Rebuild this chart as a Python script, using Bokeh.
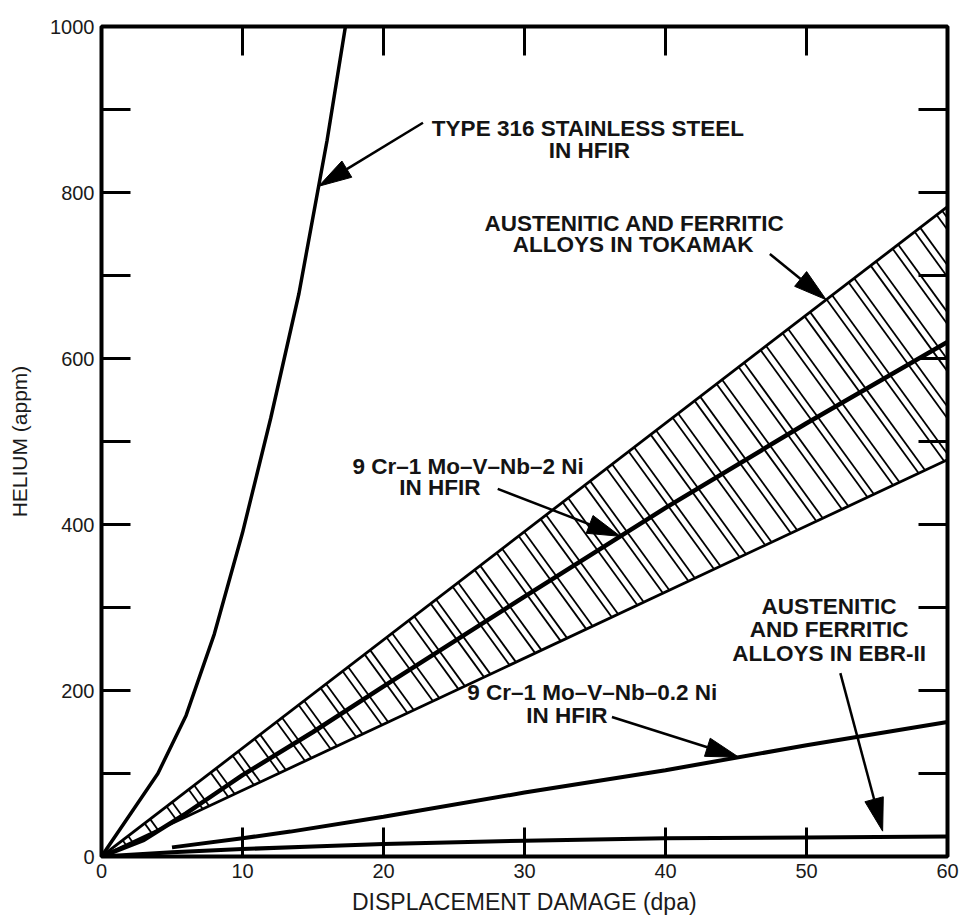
import numpy as np
from bokeh.plotting import figure
from bokeh.models import Range1d, LinearAxis, FixedTicker
from bokeh.core.properties import value
from bokeh.embed import file_html
from bokeh.resources import INLINE

# ---- helium generation vs displacement damage ----
dpa_316 = [0, 2, 4, 5, 6, 8, 10, 12, 14, 16, 17.3]
he_316 = [0, 50, 100, 135, 170, 268, 390, 528, 678, 863, 1000]

dpa_band = [0, 60]
he_band_upper = [0, 783]
he_band_lower = [0, 478]

dpa_2ni = [0, 3, 6, 8, 10, 15, 20, 30, 40, 50, 60]
he_2ni = [0, 20, 52, 75, 98, 150, 205, 313, 420, 522, 620]

dpa_02ni = [5, 10, 13.4, 20, 30, 40, 50, 60]
he_02ni = [11, 22, 30, 48, 77, 104, 134, 162]

dpa_ebr = [0, 5, 10, 15, 20, 30, 40, 50, 60]
he_ebr = [0, 5, 9, 12, 15, 19, 22, 23, 24]

x_ticks = [0, 10, 20, 30, 40, 50, 60]
y_ticks = [0, 200, 400, 600, 800, 1000]
y_minor = [100, 300, 500, 700, 900]

FONT = value("Liberation Sans")
FRAME_W, FRAME_H = 846, 830
X_MAX, Y_MAX = 60, 1000
SX, SY = FRAME_W / X_MAX, FRAME_H / Y_MAX  # pixels per data unit

p = figure(frame_width=FRAME_W, frame_height=FRAME_H,
           x_range=Range1d(0, X_MAX), y_range=Range1d(0, Y_MAX),
           output_backend="svg", toolbar_location=None,
           min_border_left=101, min_border_right=15,
           min_border_top=26, min_border_bottom=60,
           background_fill_color="white", border_fill_color="white")
p.grid.visible = False
p.outline_line_color = "black"
p.outline_line_width = 4

def style_axis(ax, ticks, minor=(), show_labels=True):
    ax.ticker = FixedTicker(ticks=list(ticks), minor_ticks=list(minor))
    ax.axis_line_color = None
    ax.major_tick_in = 29
    ax.major_tick_out = 0
    ax.minor_tick_in = 29
    ax.minor_tick_out = 0
    ax.major_tick_line_width = 3
    ax.minor_tick_line_width = 3
    ax.major_tick_line_color = "black"
    ax.minor_tick_line_color = "black"
    if show_labels:
        ax.major_label_text_font = "Liberation Sans"
        ax.major_label_text_font_size = "20px"
        ax.major_label_text_color = "#1a1a1a"
    else:
        ax.major_label_text_font_size = "0px"
        ax.major_label_standoff = 0

style_axis(p.xaxis[0], x_ticks)
p.xaxis[0].major_label_standoff = 7
p.xaxis[0].axis_label = "DISPLACEMENT DAMAGE (dpa)"
p.xaxis[0].axis_label_standoff = 8
p.xaxis[0].axis_label_text_font_size = "23px"

style_axis(p.yaxis[0], y_ticks, y_minor)
p.yaxis[0].major_label_standoff = 7
p.yaxis[0].axis_label = "HELIUM (appm)"
p.yaxis[0].axis_label_standoff = 16
p.yaxis[0].axis_label_text_font_size = "21px"

for ax in (p.xaxis[0], p.yaxis[0]):
    ax.axis_label_text_font = "Liberation Sans"
    ax.axis_label_text_font_style = "normal"
    ax.axis_label_text_color = "#1a1a1a"

top = LinearAxis()
style_axis(top, x_ticks, show_labels=False)
p.add_layout(top, "above")
right = LinearAxis()
style_axis(right, y_ticks, y_minor, show_labels=False)
p.add_layout(right, "right")

# ---- hatched tokamak band: pairs of thin lines crossing the band ----
s_hi = he_band_upper[-1] / dpa_band[-1]
s_lo = he_band_lower[-1] / dpa_band[-1]
ang = np.deg2rad(54)
hx, hy = np.cos(ang) / SX, -np.sin(ang) / SY     # one screen pixel along the hatch
pair_step = 22 / SX
pair_gap = 5.5 / SX
hatch_xs, hatch_ys = [], []
for x0 in np.arange(1.5, dpa_band[-1], pair_step):
    for xu in (x0, x0 + pair_gap):
        yu = s_hi * xu
        t = xu * (s_hi - s_lo) / (s_lo * hx - hy)
        hatch_xs.append([xu, xu + t * hx])
        hatch_ys.append([yu, yu + t * hy])
p.multi_line(hatch_xs, hatch_ys, line_color="black", line_width=1.8)

p.line(dpa_band, he_band_upper, line_color="black", line_width=2.8)
p.line(dpa_band, he_band_lower, line_color="black", line_width=2.8)

# ---- curves ----
p.line(dpa_2ni, he_2ni, line_color="black", line_width=4.5)
p.line(dpa_316, he_316, line_color="black", line_width=3.5)
p.line(dpa_02ni, he_02ni, line_color="black", line_width=4)
p.line(dpa_ebr, he_ebr, line_color="black", line_width=4)

# ---- annotations ----
labels = [
    ("TYPE 316 STAINLESS STEEL", 34.5, 877),
    ("IN HFIR", 34.6, 851),
    ("AUSTENITIC AND FERRITIC", 37.8, 763),
    ("ALLOYS IN TOKAMAK", 37.7, 737),
    ("9 Cr–1 Mo–V–Nb–2 Ni", 26.0, 470),
    ("IN HFIR", 24.0, 444),
    ("AUSTENITIC", 51.6, 301),
    ("AND FERRITIC", 51.6, 274),
    ("ALLOYS IN EBR-II", 51.6, 245),
    ("9 Cr–1 Mo–V–Nb–0.2 Ni", 34.8, 197),
    ("IN HFIR", 33.0, 170),
]
p.text(x=[l[1] for l in labels], y=[l[2] for l in labels], text=[l[0] for l in labels],
       text_font=FONT, text_font_size="22.5px", text_font_style="bold",
       text_color="#141414", text_align="center", text_baseline="middle")

# arrows: tail position, and tip placed on the curve it points to
arrows = [
    ((22.8, 884), 15.4, dpa_316, he_316, 0),
    ((47.4, 726), 51.4, dpa_band, he_band_upper, 0),
    ((28.1, 443), 36.8, dpa_2ni, he_2ni, 0),
    ((36.2, 168), 45.2, dpa_02ni, he_02ni, 0),
    ((52.4, 221), 55.4, dpa_ebr, he_ebr, 7),
]
HEAD_LEN, HEAD_HALF = 33, 9.5
seg_x0, seg_y0, seg_x1, seg_y1 = [], [], [], []
heads_x, heads_y = [], []
for (tx, ty), xt, xs, ys, lift in arrows:
    yt = float(np.interp(xt, xs, ys)) + lift
    # work in screen pixels so the heads keep their shape
    dxp, dyp = (xt - tx) * SX, (yt - ty) * SY
    n = np.hypot(dxp, dyp)
    ux, uy = dxp / n, dyp / n
    bx, by = xt - HEAD_LEN * ux / SX, yt - HEAD_LEN * uy / SY
    nx, ny = -uy, ux
    heads_x.append([xt, bx + HEAD_HALF * nx / SX, bx - HEAD_HALF * nx / SX])
    heads_y.append([yt, by + HEAD_HALF * ny / SY, by - HEAD_HALF * ny / SY])
    seg_x0.append(tx); seg_y0.append(ty); seg_x1.append(bx); seg_y1.append(by)
p.segment(seg_x0, seg_y0, seg_x1, seg_y1, line_color="black", line_width=2.5)
p.patches(heads_x, heads_y, fill_color="black", line_color="black", line_width=1)

open("out.html", "w").write(file_html(p, INLINE))
